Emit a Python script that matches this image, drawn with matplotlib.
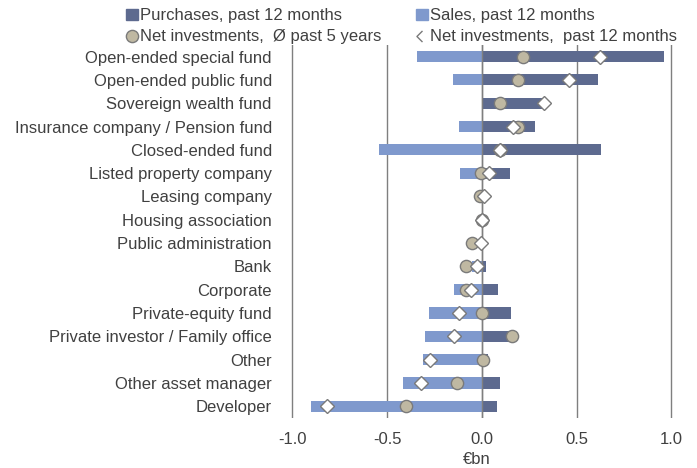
import matplotlib.pyplot as plt
from matplotlib.lines import Line2D
from matplotlib.patches import Patch
from matplotlib.path import Path

plt.rcParams['font.family'] = ['Liberation Sans', 'DejaVu Sans']

categories = ['Open-ended special fund', 'Open-ended public fund', 'Sovereign wealth fund',
              'Insurance company / Pension fund', 'Closed-ended fund', 'Listed property company',
              'Leasing company', 'Housing association', 'Public administration', 'Bank',
              'Corporate', 'Private-equity fund', 'Private investor / Family office', 'Other',
              'Other asset manager', 'Developer']
purchases = [0.96, 0.61, 0.33, 0.28, 0.63, 0.15, 0.0, 0.0, 0.0, 0.024, 0.087, 0.156, 0.15, 0.031, 0.094, 0.079]
sales = [-0.34, -0.152, 0.0, -0.121, -0.54, -0.115, 0.0, 0.0, 0.0, -0.052, -0.147, -0.278, -0.299, -0.309, -0.414, -0.902]
net_5y = [0.217, 0.192, 0.098, 0.192, 0.098, -0.007, -0.01, 0.0, -0.054, -0.086, -0.086, 0.0, 0.159, 0.007, -0.13, -0.40]
net_12m = [0.624, 0.46, 0.327, 0.163, 0.095, 0.04, 0.01, 0.0, -0.007, -0.025, -0.056, -0.122, -0.145, -0.274, -0.32, -0.818]

c_purch = '#5d6a8f'
c_sales = '#7f99cd'
c_circ = '#bfb8a2'
c_edge = '#7a7a7a'
txt = '#404040'
fs = 12

fig = plt.figure(figsize=(6.97, 4.68), dpi=100)
ax = fig.add_axes([0.392, 0.107, 0.585, 0.797])

y = list(range(len(categories)))
ax.barh(y, purchases, height=0.48, color=c_purch, zorder=2)
ax.barh(y, sales, height=0.48, color=c_sales, zorder=2)
ax.axvline(0, color='#7f7f7f', lw=1, zorder=3)
ax.plot(net_5y, y, 'o', ms=8.8, mfc=c_circ, mec=c_edge, mew=1, ls='none', zorder=4)
ax.plot(net_12m, y, 'D', ms=7, mfc='white', mec=c_edge, mew=1, ls='none', zorder=5)

ax.set_xlim(-1.1, 1.05)
ax.set_ylim(15.5, -0.5)
ax.set_xticks([-1.0, -0.5, 0.0, 0.5, 1.0])
ax.set_xticklabels(['-1.0', '-0.5', '0.0', '0.5', '1.0'])
ax.set_yticks(y)
ax.set_yticklabels(categories)
ax.tick_params(axis='both', length=0, labelsize=fs, colors=txt)
ax.tick_params(axis='x', pad=10)
ax.tick_params(axis='y', pad=1)
ax.grid(axis='x', color='#7f7f7f', lw=1, zorder=1)
ax.set_axisbelow(True)
for s in ax.spines.values():
    s.set_visible(False)
ax.set_xlabel('€bn', fontsize=fs, color=txt, labelpad=4)

# half diamond like the clipped legend symbol
half_d = Path([(0.0, 1.0), (-1.0, 0.0), (0.0, -1.0)], [Path.MOVETO, Path.LINETO, Path.LINETO])

leg_kw = dict(loc='upper left', frameon=False, fontsize=fs, labelcolor=txt, handlelength=0.7,
              handleheight=0.7, handletextpad=0.15, labelspacing=0.36, borderpad=0, borderaxespad=0)
leg1 = fig.legend([Patch(color=c_purch),
                   Line2D([], [], marker='o', ls='none', ms=8.8, mfc=c_circ, mec=c_edge)],
                  ['Purchases, past 12 months', 'Net investments,  Ø past 5 years'],
                  bbox_to_anchor=(0.181, 0.982), **leg_kw)
leg2 = fig.legend([Patch(color=c_sales),
                   Line2D([], [], marker=half_d, ls='none', ms=8, mfc='none', mec=c_edge, mew=1)],
                  ['Sales, past 12 months', 'Net investments,  past 12 months'],
                  bbox_to_anchor=(0.597, 0.982), **leg_kw)

fig.savefig('out.png', dpi=100)
